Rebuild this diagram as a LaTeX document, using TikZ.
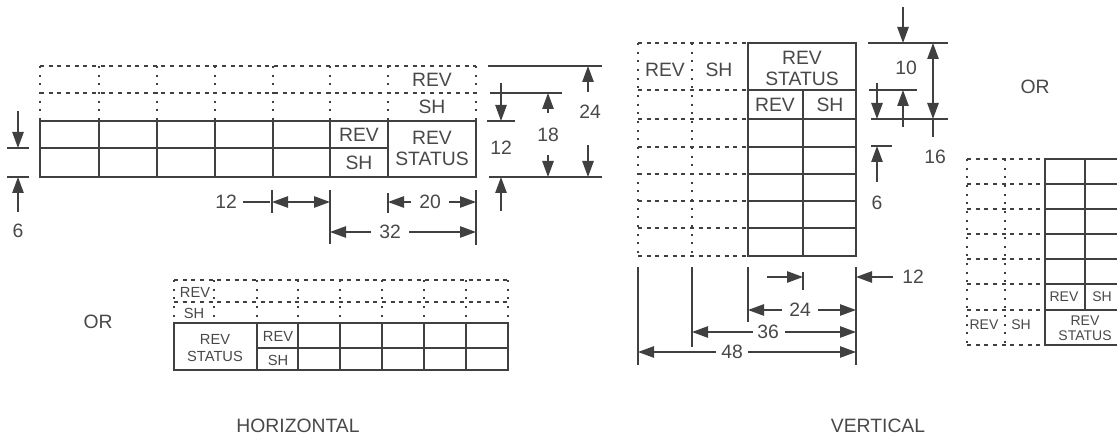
\documentclass[tikz,border=0pt]{standalone}
\usepackage{fontspec}
\setmainfont{Liberation Sans}
\usetikzlibrary{arrows.meta}
\definecolor{inkgray}{RGB}{64,64,64}
\definecolor{txtgray}{RGB}{72,72,72}
\tikzset{every picture/.style={line width=0.75pt}}
\tikzset{
  tab/.style={draw=inkgray, line width=1.5pt},
  dothz/.style={draw=inkgray, line width=1.2pt, dash pattern=on 3pt off 3.5pt},
  dotvt/.style={draw=inkgray, line width=1.4pt, dash pattern=on 1.5pt off 5pt},
  ext/.style={draw=inkgray, line width=1.2pt},
  dim/.style={ext, -{Triangle[length=12pt,width=8.5pt]}},
  dimboth/.style={ext, {Triangle[length=12pt,width=8.5pt]}-{Triangle[length=12pt,width=8.5pt]}},
  lblbig/.style={text=txtgray, inner sep=0.75pt, align=center, font=\fontsize{14.5}{15.8}\selectfont},
  lblsmall/.style={text=txtgray, inner sep=0.75pt, align=center, font=\fontsize{11}{12.5}\selectfont},
  lbltiny/.style={text=txtgray, inner sep=0.75pt, align=center, font=\fontsize{10.5}{11}\selectfont},
}

\begin{document}
\begin{tikzpicture}[x=0.75pt,y=0.75pt,yscale=-1,xscale=1]
\useasboundingbox (0,0) rectangle (1117,442);
\clip (0,0) rectangle (1117,442);

%%%%% HORIZONTAL, upper table
%Dotted rows above the table
\draw [dothz] (40,66) -- (476,66) (40,93) -- (476,93) ;
\draw [dotvt] (40,66) -- (40,121) (99,66) -- (99,121) (157,66) -- (157,121) (215,66) -- (215,121) (273,66) -- (273,121) (330,66) -- (330,121) (388,66) -- (388,121) (476,66) -- (476,121) ;
%Shape: Rectangle
\draw [tab] (40,121) rectangle (476,177) ;
\draw [tab] (40,148) -- (388,148) ;
\draw [tab] (99,121) -- (99,177) (157,121) -- (157,177) (215,121) -- (215,177) (273,121) -- (273,177) (330,121) -- (330,177) (388,121) -- (388,177) ;

% Text Node
\node [lblbig] (hrevA) at (432,80) {REV};
\node [lblbig] (hshA) at (432,107) {SH};
\node [lblbig] (hrevB) at (359,135) {REV};
\node [lblbig] (hshB) at (359,163) {SH};
\node [lblbig] (hstatA) at (432,148) {REV\\STATUS};

%Left dimension 6
\draw [ext] (7,148) -- (29,148) (7,177) -- (29,177) ;
\draw [dim] (18,111) -- (18,148) ;
\draw [dim] (18,212) -- (18,177) ;
\node [lblbig] (hsix) at (18,231) {6};

%Right dimensions 12, 18, 24
\draw [ext] (488,66) -- (602,66) ;
\draw [ext] (490,93) -- (562,93) ;
\draw [ext] (487,121) -- (515,121) ;
\draw [ext] (489,177) -- (602,177) ;
\draw [dim] (501,83) -- (501,121) ;
\draw [dim] (501,211) -- (501,177) ;
\node [lblbig] (htwelveR) at (501,148) {12};
\draw [dim] (548,113) -- (548,93) ;
\draw [dim] (548,155) -- (548,177) ;
\node [lblbig] (heighteen) at (548,135) {18};
\draw [dim] (588,92) -- (588,66) ;
\draw [dim] (588,145) -- (588,177) ;
\node [lblbig] (htwentyfour) at (590,112) {24};

%Bottom dimensions 12, 20, 32
\draw [ext] (272,190) -- (272,213) ;
\draw [ext] (330,190) -- (330,244) ;
\draw [ext] (388,193) -- (388,213) ;
\draw [ext] (476,190) -- (476,245) ;
\draw [dimboth] (272,202) -- (330,202) ;
\draw [ext] (243,202) -- (270,202) ;
\node [lblbig] (htwelveB) at (226,202) {12};
\draw [dim] (411,202) -- (388,202) ;
\draw [dim] (449,202) -- (476,202) ;
\node [lblbig] (htwenty) at (430,202) {20};
\draw [dim] (371,232) -- (330,232) ;
\draw [dim] (409,232) -- (476,232) ;
\node [lblbig] (hthirtytwo) at (390,232) {32};

%%%%% HORIZONTAL, lower table
\node [lblbig] (orA) at (98,322) {OR};
\draw [dothz] (174,280) -- (508,280) (174,302) -- (508,302) ;
\draw [dotvt] (174,280) -- (174,323) (214,280) -- (214,323) (257,280) -- (257,323) (298,280) -- (298,323) (340,280) -- (340,323) (382,280) -- (382,323) (424,280) -- (424,323) (466,280) -- (466,323) (508,280) -- (508,323) ;
%Shape: Rectangle
\draw [tab] (174,323) rectangle (508,370) ;
\draw [tab] (257,348) -- (508,348) ;
\draw [tab] (257,323) -- (257,370) (298,323) -- (298,370) (340,323) -- (340,370) (382,323) -- (382,370) (424,323) -- (424,370) (466,323) -- (466,370) ;

% Text Node
\node [lblsmall] (hrevC) at (195,292) {REV};
\node [lblsmall] (hshC) at (194,313) {SH};
\node [lblsmall] (hstatB) at (215,348) {REV\\STATUS};
\node [lblsmall] (hrevD) at (278,336) {REV};
\node [lblsmall] (hshD) at (278,360) {SH};

\node [lblbig] (hcaption) at (298,426) {HORIZONTAL};

%%%%% VERTICAL, main table
\draw [dothz] (638,43) -- (748,43) (638,90) -- (748,90) (638,119) -- (748,119) (638,147) -- (748,147) (638,174) -- (748,174) (638,201) -- (748,201) (638,228) -- (748,228) (638,256) -- (748,256) ;
\draw [dotvt] (638,43) -- (638,256) (692,43) -- (692,256) ;
%Shape: Rectangle
\draw [tab] (748,43) rectangle (856,256) ;
\draw [tab] (748,90) -- (856,90) (748,119) -- (856,119) (748,147) -- (856,147) (748,174) -- (856,174) (748,201) -- (856,201) (748,228) -- (856,228) ;
\draw [tab] (803,90) -- (803,256) ;

% Text Node
\node [lblbig] (vrevA) at (665,70) {REV};
\node [lblbig] (vshA) at (719,70) {SH};
\node [lblbig] (vstatA) at (802,68) {REV\\STATUS};
\node [lblbig] (vrevB) at (775,105) {REV};
\node [lblbig] (vshB) at (830,105) {SH};

%Right dimensions 10, 6, 16
\draw [ext] (868,43) -- (948,43) ;
\draw [ext] (869,90) -- (917,90) ;
\draw [ext] (871,119) -- (948,119) ;
\draw [ext] (871,146) -- (892,146) ;
\draw [dim] (903,7) -- (903,43) ;
\draw [dim] (903,127) -- (903,90) ;
\node [lblbig] (vten) at (906,68) {10};
\draw [dim] (877,83) -- (877,119) ;
\draw [dim] (877,182) -- (877,146) ;
\node [lblbig] (vsix) at (877,203) {6};
\draw [dimboth] (933,43) -- (933,119) ;
\draw [ext] (933,119) -- (933,137) ;
\node [lblbig] (vsixteen) at (935,157) {16};

%Bottom dimensions 12, 24, 36, 48
\draw [ext] (638,267) -- (638,365) ;
\draw [ext] (692,267) -- (692,347) ;
\draw [ext] (748,267) -- (748,322) ;
\draw [ext] (856,267) -- (856,365) ;
\draw [ext] (803,272) -- (803,290) ;
\draw [dim] (767,277) -- (803,277) ;
\draw [dim] (893,277) -- (856,277) ;
\node [lblbig] (vtwelve) at (913,277) {12};
\draw [dim] (782,310) -- (748,310) ;
\draw [dim] (818,310) -- (856,310) ;
\node [lblbig] (vtwentyfour) at (800,310) {24};
\draw [dim] (753,332) -- (692,332) ;
\draw [dim] (785,332) -- (856,332) ;
\node [lblbig] (vthirtysix) at (768,332) {36};
\draw [dim] (716,352) -- (638,352) ;
\draw [dim] (748,352) -- (856,352) ;
\node [lblbig] (vfortyeight) at (732,352) {48};

\node [lblbig] (orB) at (1035,87) {OR};
\node [lblbig] (vcaption) at (878,426) {VERTICAL};

%%%%% VERTICAL, second table (cut at the right edge)
\draw [dothz] (967,159) -- (1045,159) (967,184) -- (1045,184) (967,209) -- (1045,209) (967,234) -- (1045,234) (967,259) -- (1045,259) (967,284) -- (1045,284) (967,310) -- (1045,310) (967,345) -- (1045,345) ;
\draw [dotvt] (967,159) -- (967,345) (1005,159) -- (1005,345) ;
%Shape: Rectangle
\draw [tab] (1045,159) rectangle (1125,345) ;
\draw [tab] (1045,184) -- (1125,184) (1045,209) -- (1125,209) (1045,234) -- (1125,234) (1045,259) -- (1125,259) (1045,284) -- (1125,284) (1045,310) -- (1125,310) ;
\draw [tab] (1085,159) -- (1085,310) ;

% Text Node
\node [lbltiny] (vrevC) at (984,325) {REV};
\node [lbltiny] (vshC) at (1021,325) {SH};
\node [lbltiny] (vrevD) at (1064,297) {REV};
\node [lbltiny] (vshD) at (1102,297) {SH};
\node [lbltiny] (vstatB) at (1085,328) {REV\\STATUS};

\end{tikzpicture}
\end{document}
